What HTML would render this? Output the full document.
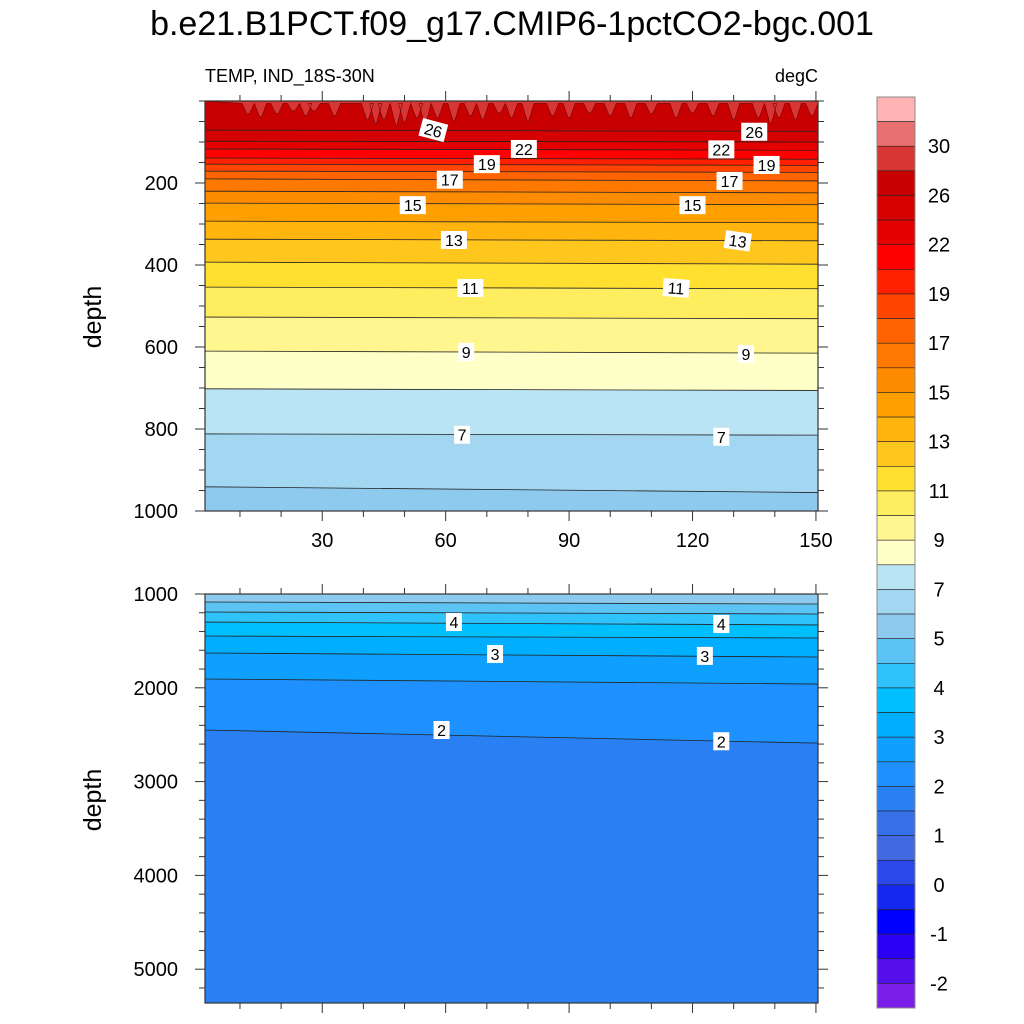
<!DOCTYPE html>
<html><head><meta charset="utf-8">
<style>
body{margin:0;background:#fff;}
svg{display:block;font-family:"Liberation Sans",sans-serif;}
</style></head>
<body>
<svg id="chart" width="1024" height="1024" viewBox="0 0 1024 1024">
<text x="512" y="35" font-size="34" text-anchor="middle">b.e21.B1PCT.f09_g17.CMIP6-1pctCO2-bgc.001</text>
<text x="205" y="82" font-size="18">TEMP, IND_18S-30N</text>
<text x="818" y="82" font-size="18" text-anchor="end">degC</text>
<text transform="translate(101,317) rotate(-90)" font-size="25" text-anchor="middle">depth</text>
<text transform="translate(101,800) rotate(-90)" font-size="25" text-anchor="middle">depth</text>
<g id="top"></g>
<g id="bot"></g>
<g id="cbar"></g>
</svg>
<script>
// ---- data ----
const cbarColors = ["#FFB3B3","#E87070","#D83535","#C80000","#D50000","#E50000","#FF0000","#FF2000","#FF4500","#FF6400","#FF7800","#FF8C00","#FFA000","#FFB40E","#FFC61E","#FFDF30","#FFED60","#FFF690","#FFFFC8","#BAE3F3","#A3D6F0","#8ECAEE","#5CC3F5","#30C2FA","#00BFFF","#00AEFF","#0FA0FF","#1E90FF","#2880F2","#3570E8","#4169E1","#2B48E8","#1428F0","#0000FF","#2A00F5","#5510EA","#7A1EE8"];
const cbarLabels = ["30","26","22","19","17","15","13","11","9","7","5","4","3","2","1","0","-1","-2"];
// upper panel contour levels, depth (m) at x=1.5 and x=150.5, colour below line
const topLevels = [26,24,22,20,19,18,17,16,15,14,13,12,11,10,9,8,7,6];
const topDepthLeft = [71,98,117,139,154,171,190,220,249,293,337,393,454,527,610,702,812,941];
const topDepthRight = [74,100,120,142,157,174,195,224,253,297,341,398,458,531,615,706,815,955];
const topBelow = ["#D50000","#E50000","#FF0000","#FF2000","#FF4500","#FF6400","#FF7800","#FF8C00","#FFA000","#FFB40E","#FFC61E","#FFDF30","#FFED60","#FFF690","#FFFFC8","#BAE3F3","#A3D6F0","#8ECAEE"];
const topSurfaceColor = "#C80000";
// warm (>28) surface tongues: x position, depth (m)
const spikeX = [12,15,19,23,26,28,33,41,43,45,48,50,53,55,58,62,66,69,73,76,80,86,90,95,100,105,110,116,120,125,130,136,139,141,145,149];
const spikeD = [30,38,30,22,35,22,35,45,55,45,60,52,40,55,40,48,35,45,28,40,48,35,40,28,35,40,30,40,28,35,45,40,55,40,45,35];
// lower panel
const botLevels = [5,4.5,4,3.5,3,2.5,2];
const botDepthLeft = [1085,1192,1299,1448,1629,1906,2450];
const botDepthRight = [1107,1213,1330,1469,1672,1960,2590];
const botBelow = ["#5CC3F5","#30C2FA","#00BFFF","#00AEFF","#0FA0FF","#1E90FF","#2880F2"];
const botTopColor = "#8ECAEE";
// contour labels
const topLabelText = ["26","26","22","22","19","19","17","17","15","15","13","13","11","11","9","9","7","7"];
const topLabelX = [57,135,79,127,70,138,61,129,52,120,62,131,66,116,65,133,64,127];
const topLabelD = [71,75,117,118,154,156,192,195,254,254,339,341,456,456,612,617,814,819];
const topLabelRot = [15,0,0,0,0,0,0,0,0,0,0,8,0,4,0,0,0,0];
const botLabelText = ["4","4","3","3","2","2"];
const botLabelX = [62,127,72,123,59,127];
const botLabelD = [1299,1320,1640,1660,2450,2570];

// ---- scales ----
const L=205,R=818;
const xs = v => L + (v-1.5)*(R-L)/149;
const T1=101,B1=511, yT = d => T1 + d*(B1-T1)/1000;
const T2=594,B2=1003, yB = d => T2 + (d-1000)*0.0938;
const NS="http://www.w3.org/2000/svg";
function mk(tag,attrs,parent){const e=document.createElementNS(NS,tag);for(const k in attrs)e.setAttribute(k,attrs[k]);parent.appendChild(e);return e;}

function panel(g,top,bottom,ys,topColor,dl,dr,below,clipId){
  const defs=mk("defs",{},g);
  const cp=mk("clipPath",{id:clipId},defs);
  mk("rect",{x:L,y:top,width:R-L,height:bottom-top},cp);
  const inner=mk("g",{"clip-path":"url(#"+clipId+")"},g);
  const bg=mk("rect",{x:L,y:top,width:R-L,height:bottom-top,fill:topColor},inner);
  
  
  for(let i=0;i<dl.length;i++){
    const y1=ys(dl[i]),y2=ys(dr[i]);
    const p=mk("polygon",{points:`${L},${y1} ${R},${y2} ${R},${bottom} ${L},${bottom}`,fill:below[i]},inner);
    
    
  }
  for(let i=0;i<dl.length;i++){
    const ln=mk("line",{x1:L,y1:ys(dl[i]),x2:R,y2:ys(dr[i]),stroke:"#222","stroke-width":0.8},inner);
    
    
  }
  return inner;
}
function labels(g,txt,xv,dv,rot,ys){
  for(let i=0;i<txt.length;i++){
    const x=xs(xv[i]),y=ys(dv[i]);
    const grp=mk("g",{transform:`translate(${x},${y}) rotate(${rot?rot[i]:0})`},g);
    
    
    const w=txt[i].length*10+6;
    mk("rect",{x:-w/2,y:-9,width:w,height:18,fill:"#fff"},grp);
    const t=mk("text",{x:0,y:6,"font-size":16,"text-anchor":"middle"},grp);
    t.textContent=txt[i];
  }
}
function axes(g,top,bottom,ys,majors,minorStep,dmin,dmax,labelX){
  mk("rect",{x:L,y:top,width:R-L,height:bottom-top,fill:"none",stroke:"#333","stroke-width":1.2},g);
  for(let v=10;v<=150;v+=10){
    const major=v%30===0,len=major?10:6,x=xs(v);
    mk("line",{x1:x,y1:top,x2:x,y2:top-len,stroke:"#333","stroke-width":1},g);
    mk("line",{x1:x,y1:bottom,x2:x,y2:bottom+len,stroke:"#333","stroke-width":1},g);
    if(labelX&&major){const t=mk("text",{x:x,y:bottom+36,"font-size":20,"text-anchor":"middle"},g);t.textContent=v;
      }
  }
  for(let d=Math.ceil(dmin/minorStep)*minorStep;d<=dmax;d+=minorStep){
    const y=ys(d);if(y<top-0.5||y>bottom+0.5)continue;
    const major=majors.includes(d),len=major?10:6;
    mk("line",{x1:L,y1:y,x2:L-len,y2:y,stroke:"#333","stroke-width":1},g);
    mk("line",{x1:R,y1:y,x2:R+len,y2:y,stroke:"#333","stroke-width":1},g);
    if(major){const t=mk("text",{x:L-27,y:y+7,"font-size":20,"text-anchor":"end"},g);t.textContent=d;
      }
  }
}
// top panel
const gT=document.getElementById("top");
const innerT=panel(gT,T1,B1,yT,topSurfaceColor,topDepthLeft,topDepthRight,topBelow,"c1");
let sp=`M${L},${T1} `;
for(let i=0;i<spikeX.length;i++){const x=xs(spikeX[i]);sp+=`L${x-6},${yT(6)} Q${x},${yT(spikeD[i])+4} ${x},${yT(spikeD[i])} Q${x},${yT(spikeD[i])+4} ${x+6},${yT(6)} `;}
sp+=`L${R},${yT(6)} L${R},${T1} Z`;
const spk=mk("path",{d:sp,fill:"#D83535",stroke:"#5a0000","stroke-width":0.5},innerT);


labels(gT,topLabelText,topLabelX,topLabelD,topLabelRot,yT);
axes(gT,T1,B1,yT,[200,400,600,800,1000],50,0,1000,true);
// bottom panel
const gB=document.getElementById("bot");
panel(gB,T2,B2,yB,botTopColor,botDepthLeft,botDepthRight,botBelow,"c2");
labels(gB,botLabelText,botLabelX,botLabelD,null,yB);
axes(gB,T2,B2,yB,[1000,2000,3000,4000,5000],200,1000,5360,false);
// colorbar
const gC=document.getElementById("cbar");
const cx=877,cw=38,ct=97,cb=1008,bh=(cb-ct)/cbarColors.length;
cbarColors.forEach((c,i)=>{
  const r=mk("rect",{x:cx,y:ct+i*bh,width:cw,height:bh,fill:c,stroke:"#222","stroke-width":0.6},gC);
  
  
});
mk("rect",{x:cx,y:ct,width:cw,height:cb-ct,fill:"none",stroke:"#888","stroke-width":1},gC);
cbarLabels.forEach((s,j)=>{
  const y=ct+(2+2*j)*bh;
  const t=mk("text",{x:939,y:y+7,"font-size":20,"text-anchor":"middle"},gC);
  t.textContent=s;
  
  
});
</script>
</body></html>
